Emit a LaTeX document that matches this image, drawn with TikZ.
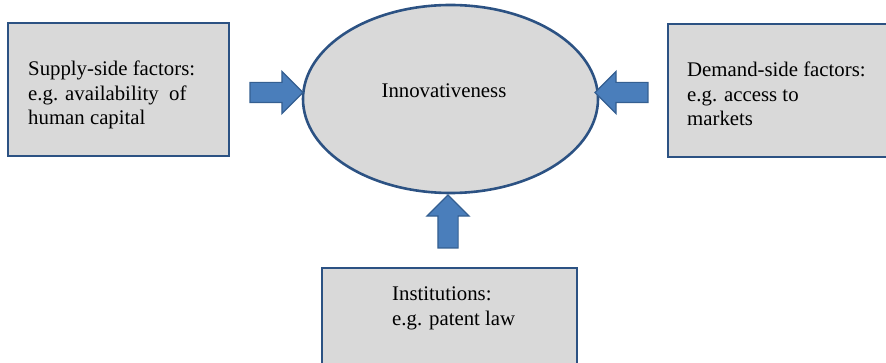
\documentclass[tikz,border=0pt]{standalone}
\usepackage{fontspec}
\setmainfont{Liberation Serif}
\usepackage{tikz}
\usetikzlibrary{shapes.geometric,shapes.arrows}
\definecolor{frame}{HTML}{2C5283}
\definecolor{panel}{HTML}{D9D9D9}
\definecolor{arrowfill}{HTML}{4A7EBB}
\definecolor{arrowline}{HTML}{345F91}
\tikzset{
  box/.style={draw=frame, fill=panel, line width=2.7pt, inner sep=0pt},
  oval/.style={ellipse, draw=frame, fill=panel, line width=2.6pt, inner sep=0pt,
    minimum width=295pt, minimum height=188pt},
  txt/.style={align=left, inner sep=0pt, font=\fontsize{20.8}{24.5}\selectfont},
  push/.style={single arrow, draw=arrowline, fill=arrowfill, line width=1.2pt,
    inner sep=9.5pt, minimum height=53pt, single arrow head extend=11pt,
    single arrow tip angle=90},
}

\begin{document}
\begin{tikzpicture}[x=1pt,y=-1pt]
  \useasboundingbox (0,0) rectangle (886,363);
  % three factor boxes
  \node[box, minimum width=221pt, minimum height=133pt] (supbox) at (118.5,89.5) {};
  \node[txt, anchor=north west] (sup) at (28,61) {Supply-side factors:\\e.g. availability\ \ of\\human capital};
  \node[box, minimum width=222pt, minimum height=133pt] (dembox) at (779,90.5) {};
  \node[txt, anchor=north west] (dem) at (687,62) {Demand-side factors:\\e.g. access to\\markets};
  \node[box, minimum width=255pt, minimum height=110pt] (instbox) at (449.5,323) {};
  \node[txt, anchor=north west] (inst) at (392,287) {Institutions:\\e.g. patent law};
  % centre
  \node[oval] (inn) at (450.5,99) {};
  \node[txt, anchor=base] (innlbl) at (444,98) {Innovativeness};
  % block arrows
  \node[push] (supin) at (271.5,92.5) {};
  \node[push, shape border rotate=180] (demin) at (626.5,92.5) {};
  \node[push, shape border rotate=90] (instin) at (448,226.5) {};
\end{tikzpicture}
\end{document}
